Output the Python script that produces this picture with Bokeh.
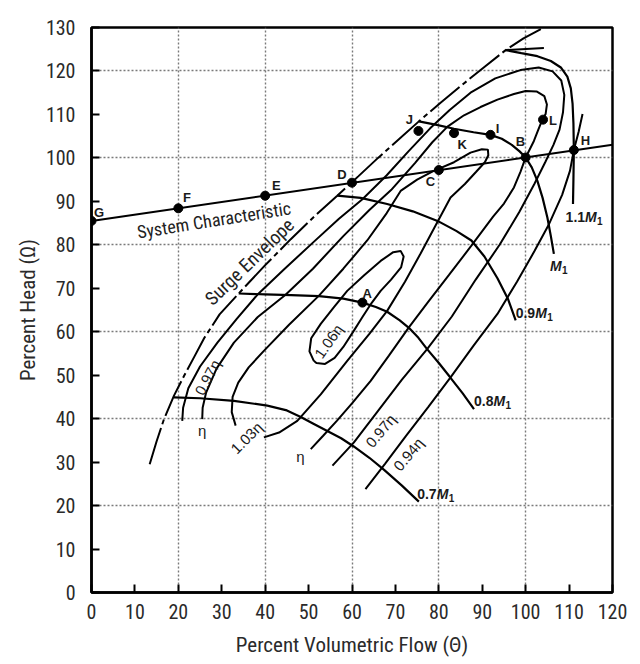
from bokeh.plotting import figure
from bokeh.models import ColumnDataSource, FixedTicker, Range1d
from bokeh.core.properties import value
from bokeh.embed import file_html
from bokeh.resources import INLINE

SANS = "Liberation Sans"
COND = "Roboto Condensed"

# ---------------- data ----------------
x_ticks = [0, 10, 20, 30, 40, 50, 60, 70, 80, 90, 100, 110, 120]
y_ticks = [0, 10, 20, 30, 40, 50, 60, 70, 80, 90, 100, 110, 120, 130]
x_grid = [20, 40, 60, 80, 100]
y_grid = [20, 40, 60, 80, 100, 120]

# system characteristic
sys_x = [0, 120]
sys_y = [85.5, 103.0]

# operating points
pt_names = ["G", "F", "E", "D", "C", "B", "H", "J", "K", "I", "L", "A"]
pt_x = [0, 20, 40, 60, 80, 100, 111.1, 75.3, 83.5, 91.9, 104.0, 62.4]
pt_y = [85.5, 88.4, 91.3, 94.3, 97.2, 100.1, 101.8, 106.2, 105.7, 105.3, 108.8, 66.7]
pt_lbl_x = [0.6, 21.1, 41.6, 56.6, 77.0, 97.7, 112.7, 72.4, 84.3, 93.1, 105.4, 62.4]
pt_lbl_y = [87.4, 90.8, 93.6, 96.1, 94.5, 103.7, 103.9, 108.8, 103.0, 106.8, 108.5, 68.8]

# surge envelope
surge_x = [13.4, 15.0, 16.7, 19.0, 21.3, 23.6, 26.0, 29.5, 33.9, 39.9, 45.9, 51.2, 56.6,
           61.5, 66.0, 70.8, 75.4, 80.4, 85.0, 90.2, 95.4, 99.5, 103.5]
surge_y = [29.5, 34.8, 39.9, 45.3, 49.8, 54.1, 58.6, 64.0, 68.8, 75.2, 81.3, 86.4, 91.3,
           95.8, 100.0, 104.3, 108.4, 112.7, 116.5, 120.7, 124.8, 127.5, 129.6]

# speed lines
m07_x = [19.0, 25.0, 32.8, 40.5, 45.0, 48.2, 51.0, 54.2, 57.5, 60.4, 64.0, 67.4, 71.5, 75.4]
m07_y = [44.9, 44.7, 44.1, 43.0, 41.9, 40.4, 38.9, 37.2, 35.5, 33.6, 31.0, 28.2, 24.6, 20.9]
m08_x = [33.9, 40.0, 46.0, 52.4, 58.0, 62.4, 65.5, 68.1, 71.0, 73.1, 75.3, 77.3, 80.0, 82.7, 85.5, 88.1]
m08_y = [68.8, 68.6, 68.4, 68.2, 67.6, 66.7, 65.7, 64.6, 62.6, 60.9, 58.6, 56.0, 52.8, 49.4, 45.8, 42.2]
m09_x = [56.6, 62.0, 68.1, 74.0, 79.7, 84.0, 87.5, 90.5, 93.5, 95.9, 97.7]
m09_y = [91.3, 90.8, 89.4, 87.7, 85.5, 83.2, 81.0, 77.3, 72.3, 67.6, 62.6]
m10_x = [75.4, 79.5, 83.5, 88.0, 91.9, 94.5, 96.8, 98.6, 100.0, 101.4, 102.7, 103.9, 105.0, 105.8, 106.5]
m10_y = [108.4, 107.6, 106.7, 105.9, 105.3, 104.4, 103.0, 101.5, 100.1, 97.8, 94.7, 90.8, 86.3, 82.0, 77.9]
m11_x = [95.4, 99.0, 102.7, 105.8, 108.1, 109.6, 110.4, 110.8, 111.0, 111.1, 111.0, 110.9]
m11_y = [124.8, 124.1, 123.4, 122.3, 120.8, 118.7, 116.0, 112.5, 108.0, 101.8, 95.0, 89.4]

m_prefix = ["0.7", "0.8", "0.9", "", "1.1"]
m_lbl_x = [75.0, 88.1, 97.7, 105.6, 109.2]
m_lbl_y = [22.7, 44.1, 64.4, 75.1, 86.3]

# efficiency contours
e106_x = [51.2, 50.2, 50.6, 52.8, 55.8, 58.9, 62.8, 66.6, 69.5, 71.2, 71.9, 71.3, 69.0, 66.6,
          64.5, 62.3, 60.4, 58.0, 56.0, 53.8, 51.8, 51.2]
e106_y = [53.3, 55.5, 58.5, 61.8, 65.6, 69.4, 73.0, 76.3, 78.3, 78.6, 77.3, 74.8, 72.0, 69.4,
          66.6, 63.2, 60.2, 56.5, 54.0, 52.6, 52.8, 53.3]
e103_x = [33.2, 32.3, 32.5, 33.8, 36.2, 39.7, 45.5, 52.4, 58.0, 63.5, 68.0, 71.2, 75.0, 78.6,
          83.5, 87.3, 89.9, 91.3, 91.4, 90.6, 88.6, 86.0, 82.7, 79.0, 75.8, 72.2, 68.1, 64.0,
          58.9, 52.8, 47.4, 43.2, 39.7]
e103_y = [38.4, 41.5, 45.0, 48.3, 51.8, 55.6, 61.6, 68.3, 74.5, 81.0, 87.3, 92.4, 95.0, 96.9,
          99.0, 101.2, 102.0, 101.9, 100.6, 99.0, 96.8, 94.0, 90.9, 84.0, 78.0, 71.5, 64.8, 59.5,
          53.3, 45.6, 39.5, 36.8, 35.7]
e100_x = [25.5, 25.6, 26.4, 28.8, 32.8, 38.3, 44.7, 51.0, 58.0, 64.0, 69.0, 74.5, 78.5, 82.0,
          85.8, 89.6, 93.5, 97.3, 100.0, 102.5, 104.3, 104.9, 104.6, 103.8, 102.8, 101.9, 100.0,
          98.8, 97.3, 95.0, 92.5, 87.5, 82.3, 77.5, 73.1, 68.5, 64.3, 60.0, 56.5, 53.3, 50.5]
e100_y = [39.9, 42.5, 46.0, 51.5, 57.5, 63.4, 68.5, 74.5, 82.0, 88.0, 92.6, 98.8, 103.6, 107.2,
          109.8, 111.7, 113.4, 114.7, 115.4, 115.3, 114.2, 112.3, 110.1, 108.7, 106.2, 103.9, 100.1,
          96.8, 93.2, 89.5, 86.5, 79.8, 73.0, 66.8, 61.0, 54.5, 48.7, 43.5, 39.5, 36.0, 33.0]
e097_x = [20.9, 21.1, 22.3, 25.0, 29.0, 33.5, 38.2, 44.5, 51.0, 57.0, 62.4, 68.0, 73.0, 78.0,
          82.5, 87.3, 93.0, 98.8, 103.0, 106.2, 108.2, 108.9, 108.6, 107.8, 106.4, 104.5, 102.0,
          98.5, 94.0, 88.5, 83.0, 77.3, 71.5, 66.0, 60.4, 55.5]
e097_y = [39.5, 42.5, 47.0, 52.0, 57.5, 63.0, 68.5, 74.5, 80.5, 86.0, 90.5, 96.0, 101.5, 106.8,
          111.0, 115.0, 118.3, 120.2, 120.8, 119.9, 117.8, 114.5, 110.5, 106.5, 103.0, 99.0, 94.0,
          87.5, 80.0, 72.0, 63.5, 56.0, 49.0, 41.8, 34.5, 29.2]
e094_x = [63.1, 67.6, 72.4, 77.5, 82.7, 88.0, 93.5, 98.0, 102.0, 105.4, 108.4, 110.2, 111.1, 112.2, 113.1]
e094_y = [23.8, 29.6, 36.0, 42.6, 49.5, 56.8, 64.1, 71.5, 78.5, 84.8, 91.5, 97.0, 101.8, 106.0, 110.1]
e094_top_x = [95.4, 104.2]
e094_top_y = [124.8, 125.3]

eff_lbl_text = ["1.06η", "1.03η", "0.97η", "η", "η", "0.97η", "0.94η"]
eff_lbl_x = [54.6, 35.7, 26.7, 25.5, 48.1, 66.6, 73.0]
eff_lbl_y = [57.8, 35.6, 49.5, 37.2, 31.3, 37.2, 31.8]
eff_lbl_angle = [55, 45, 62, 0, 0, 50, 50]

# ---------------- figure ----------------
p = figure(frame_width=521, frame_height=565,
           x_range=Range1d(0, 120), y_range=Range1d(0, 130),
           output_backend="svg", toolbar_location=None,
           min_border_left=91, min_border_top=27, min_border_right=26, min_border_bottom=60,
           x_axis_label="Percent Volumetric Flow (Θ)", y_axis_label="Percent Head (Ω)")
p.background_fill_color = "white"
p.border_fill_color = "white"
p.outline_line_color = "black"
p.outline_line_width = 2.5

for ax, ticks in ((p.xaxis, x_ticks), (p.yaxis, y_ticks)):
    ax.ticker = FixedTicker(ticks=ticks)
    ax.axis_line_width = 2.5
    ax.major_tick_line_width = 2
    ax.major_tick_in = 8
    ax.major_tick_out = 0
    ax.minor_tick_line_color = None
    ax.major_label_text_font = COND
    ax.major_label_text_font_size = "20px"
    ax.major_label_text_color = "#2a2a2a"
    ax.axis_label_text_font = COND
    ax.axis_label_text_font_size = "21px"
    ax.axis_label_text_font_style = "normal"
    ax.axis_label_text_color = "#2a2a2a"
p.xaxis.major_label_standoff = 11
p.xaxis.axis_label_standoff = 11
p.yaxis.major_label_standoff = 16
p.yaxis.axis_label_standoff = 3

p.xgrid.ticker = FixedTicker(ticks=x_grid)
p.ygrid.ticker = FixedTicker(ticks=y_grid)
for g in (p.xgrid, p.ygrid):
    g.grid_line_color = "#7a7a7a"
    g.grid_line_dash = "2 2"
    g.grid_line_width = 1.4

LW = 2.0
for xs, ys in ((e106_x, e106_y), (e103_x, e103_y), (e100_x, e100_y), (e097_x, e097_y),
               (e094_x, e094_y), (e094_top_x, e094_top_y)):
    p.line(xs, ys, line_color="black", line_width=LW)

for xs, ys in ((m07_x, m07_y), (m08_x, m08_y), (m09_x, m09_y), (m10_x, m10_y), (m11_x, m11_y)):
    p.line(xs, ys, line_color="black", line_width=2.2)

p.line(surge_x, surge_y, line_color="black", line_width=2.0, line_dash="38 4 5 4")
p.line(sys_x, sys_y, line_color="black", line_width=2.0)

p.scatter(pt_x, pt_y, size=9, color="black")
p.text(x=pt_lbl_x, y=pt_lbl_y, text=pt_names, text_font=value(SANS), text_font_size="13px",
       text_font_style="bold", text_align="left", text_baseline="middle", text_color="#1a1a1a")

p.text(x=eff_lbl_x, y=eff_lbl_y, text=eff_lbl_text, angle=eff_lbl_angle, angle_units="deg",
       text_font=value(SANS), text_font_size="15px", text_align="center",
       text_baseline="middle", text_color="#1a1a1a")

CW = {"0": 7.8, "1": 7.8, "7": 7.8, "8": 7.8, "9": 7.8, ".": 3.9}
pre_w = [sum(CW[c] for c in s) for s in m_prefix]
src_m = ColumnDataSource(dict(x=m_lbl_x, y=m_lbl_y, pre=m_prefix,
                              mt=["M"] * len(m_prefix), st=["1"] * len(m_prefix),
                              xo_m=pre_w, xo_s=[w + 12.0 for w in pre_w]))
p.text(x="x", y="y", text="pre", source=src_m, text_font=value(SANS), text_font_size="14px",
       text_font_style="bold", text_align="left", text_baseline="middle", text_color="#1a1a1a")
p.text(x="x", y="y", text="mt", source=src_m, x_offset="xo_m", text_font=value(SANS),
       text_font_size="14px", text_font_style="bold italic", text_align="left",
       text_baseline="middle", text_color="#1a1a1a")
p.text(x="x", y="y", text="st", source=src_m, x_offset="xo_s", y_offset=4,
       text_font=value(SANS), text_font_size="10px", text_font_style="bold",
       text_align="left", text_baseline="middle", text_color="#1a1a1a")

p.text(x=[28.2], y=[85.7], text=["System Characteristic"], angle=[9], angle_units="deg",
       text_font=value(COND), text_font_size="18px", text_align="center",
       text_baseline="middle", text_color="#222222")
p.text(x=[36.4], y=[76.1], text=["Surge Envelope"], angle=[44], angle_units="deg",
       text_font=value(COND), text_font_size="19px", text_align="center",
       text_baseline="middle", text_color="#222222")

open("out.html", "w").write(file_html(p, INLINE))
